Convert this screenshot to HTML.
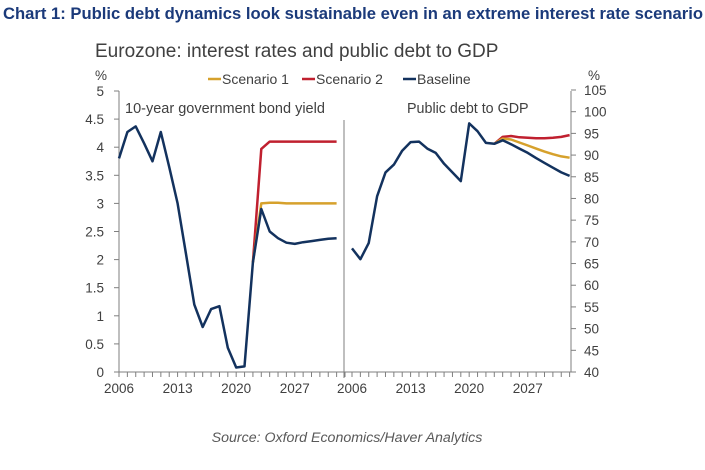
<!DOCTYPE html>
<html><head><meta charset="utf-8"><style>
body{margin:0;background:#fff;width:705px;height:465px;overflow:hidden;font-family:"Liberation Sans",sans-serif}
</style></head><body>
<svg width="705" height="465" xmlns="http://www.w3.org/2000/svg">
<text x="3" y="19" font-size="16.4" font-weight="bold" fill="#1b3a7a" textLength="700" lengthAdjust="spacingAndGlyphs">Chart 1: Public debt dynamics look sustainable even in an extreme interest rate scenario</text>
<text x="95" y="57" font-size="19" fill="#404040">Eurozone: interest rates and public debt to GDP</text>
<text x="347" y="442" font-size="14.2" font-style="italic" fill="#595959" text-anchor="middle">Source: Oxford Economics/Haver Analytics</text>
<g id="g"></g>
</svg>
<script>
const years=[2006,2007,2008,2009,2010,2011,2012,2013,2014,2015,2016,2017,2018,2019,2020,2021,2022,2023,2024,2025,2026,2027,2028,2029,2030,2031,2032];
const yieldBase=[3.8,4.27,4.37,4.07,3.75,4.27,3.65,3.0,2.1,1.2,0.8,1.12,1.17,0.43,0.08,0.1,1.95,2.9,2.5,2.38,2.3,2.28,2.31,2.33,2.35,2.37,2.38];
const yieldS1=[null,null,null,null,null,null,null,null,null,null,null,null,null,null,null,null,1.95,3.0,3.01,3.01,3.0,3.0,3.0,3.0,3.0,3.0,3.0];
const yieldS2=[null,null,null,null,null,null,null,null,null,null,null,null,null,null,null,null,1.95,3.97,4.1,4.1,4.1,4.1,4.1,4.1,4.1,4.1,4.1];
const debtBase=[68.5,66,69.7,80.5,86,87.8,91,93,93.1,91.5,90.5,88,86,84,97.3,95.5,92.8,92.6,93.4,92.5,91.5,90.5,89.3,88.2,87.1,86,85.2];
const debtS1=[null,null,null,null,null,null,null,null,null,null,null,null,null,null,null,null,null,92.6,93.8,93.6,92.9,92.2,91.5,90.8,90.2,89.7,89.4];
const debtS2=[null,null,null,null,null,null,null,null,null,null,null,null,null,null,null,null,null,92.6,94.2,94.4,94.1,94.0,93.9,93.9,94.0,94.2,94.6];
const leftTicks=[0,0.5,1,1.5,2,2.5,3,3.5,4,4.5,5];
const rightTicks=[40,45,50,55,60,65,70,75,80,85,90,95,100,105];
const xLabels=[2006,2013,2020,2027];
const NS="http://www.w3.org/2000/svg";
const g=document.getElementById('g');
function el(t,a,txt){const e=document.createElementNS(NS,t);for(const k in a)e.setAttribute(k,a[k]);if(txt!=null)e.textContent=txt;g.appendChild(e);return e;}
const pw=8.37;
const xL=y=>119+(y-2006)*pw, xR=y=>352+(y-2006)*pw;
const yL=v=>372-v*56.2, yR=v=>372-(v-40)*(282/65);
const GR="#7f7f7f";
let a;
a=el('line',{x1:119,y1:91,x2:119,y2:372,stroke:GR});

a=el('line',{x1:571,y1:91,x2:571,y2:372,stroke:GR});

a=el('line',{x1:119,y1:372,x2:571,y2:372,stroke:GR});

a=el('line',{x1:344,y1:120,x2:344,y2:378,stroke:GR});

leftTicks.forEach(v=>{el('line',{x1:114,y1:yL(v),x2:119,y2:yL(v),stroke:GR});
const t=el('text',{x:104,y:yL(v)+5,'font-size':13.5,fill:'#404040','text-anchor':'end'},String(v));
});
rightTicks.forEach(v=>{el('line',{x1:571,y1:yR(v),x2:576,y2:yR(v),stroke:GR});
const t=el('text',{x:584,y:yR(v)+5,'font-size':13.5,fill:'#404040'},String(v));
});
for(let y=2006;y<=2033;y++){el('line',{x1:xL(y),y1:372,x2:xL(y),y2:377,stroke:GR});}
for(let y=2006;y<=2032;y++){el('line',{x1:xR(y),y1:372,x2:xR(y),y2:377,stroke:GR});}
xLabels.forEach(y=>{let t=el('text',{x:xL(y),y:393,'font-size':13.5,fill:'#404040','text-anchor':'middle'},String(y));

t=el('text',{x:xR(y),y:393,'font-size':13.5,fill:'#404040','text-anchor':'middle'},String(y));
});
a=el('text',{x:95,y:80,'font-size':13.5,fill:'#404040'},'%');
a=el('text',{x:588,y:80,'font-size':13.5,fill:'#404040'},'%');
a=el('text',{x:125,y:113,'font-size':14.5,fill:'#404040'},'10-year government bond yield');
a=el('text',{x:407,y:113,'font-size':14.3,fill:'#404040'},'Public debt to GDP');
function line(vals,xf,yf,c,name){let d='';vals.forEach((v,i)=>{if(v==null)return;d+=(d?'L':'M')+xf(years[i]).toFixed(1)+','+yf(v).toFixed(1);});
const p=el('path',{d:d,fill:'none',stroke:c,'stroke-width':2.5,'stroke-linejoin':'round'});
}
const C1='#d6a12c',C2='#c0202f',CB='#13325e';
line(yieldS2,xL,yL,C2,'yield-scenario-2-line');line(yieldS1,xL,yL,C1,'yield-scenario-1-line');line(yieldBase,xL,yL,CB,'yield-baseline-line');
line(debtS2,xR,yR,C2,'debt-scenario-2-line');line(debtS1,xR,yR,C1,'debt-scenario-1-line');line(debtBase,xR,yR,CB,'debt-baseline-line');
[['Scenario 1',C1,208],['Scenario 2',C2,302],['Baseline',CB,403]].forEach(([n,c,x])=>{
el('line',{x1:x,y1:79,x2:x+13,y2:79,stroke:c,'stroke-width':2.5});
const t=el('text',{x:x+14,y:84,'font-size':14,fill:'#404040'},n);
});
</script>
</body></html>
